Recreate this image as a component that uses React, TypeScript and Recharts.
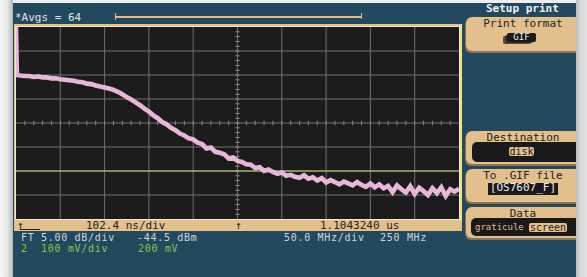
import { LineChart, Line, XAxis, YAxis, CartesianGrid, ReferenceLine } from "recharts";

// FT trace, 0..500 MHz (50 MHz/div), level in dB below top of screen (5 dB/div)
const freqMHz = [
  0, 1, 5, 10, 15, 20, 25, 30, 35, 40, 45, 50, 55, 60, 65, 70, 75, 80, 85, 90, 95,
  100, 105, 110, 115, 120, 125, 130, 135, 140, 145, 150, 155, 160, 165, 170, 175,
  180, 185, 190, 195, 200, 205, 210, 215, 220, 225, 230, 235, 240, 245, 250, 255,
  260, 265, 270, 275, 280, 285, 290, 295, 300, 305, 310, 315, 320, 325, 330, 335,
  340, 345, 350, 355, 360, 365, 370, 375, 380, 385, 390, 395, 400, 405, 410, 415,
  420, 425, 430, 435, 440, 445, 450, 455, 460, 465, 470, 475, 480, 485, 490, 495, 500,
];
const traceDb = [
  0, -10.0, -10.1, -10.2, -10.2, -10.4, -10.3, -10.5, -10.5, -10.7, -10.7, -10.9,
  -11.0, -11.1, -11.2, -11.4, -11.5, -11.8, -11.9, -12.2, -12.4, -12.6, -12.8, -13.1,
  -13.5, -14.0, -14.6, -15.1, -15.7, -16.3, -17.0, -17.6, -18.4, -19.0, -19.8, -20.3,
  -21.0, -21.5, -22.2, -22.6, -23.2, -23.4, -24.1, -24.4, -25.3, -25.1, -26.0, -26.2,
  -26.5, -27.4, -27.2, -27.9, -28.1, -28.6, -28.7, -29.4, -29.2, -30.0, -29.7, -30.2,
  -30.6, -30.3, -31.0, -30.8, -31.2, -31.4, -30.9, -31.6, -31.3, -32.0, -31.5, -32.4,
  -31.9, -32.3, -32.8, -32.2, -32.6, -33.0, -32.3, -32.9, -33.3, -32.6, -33.4, -32.8,
  -33.6, -33.1, -34.4, -33.0, -33.8, -34.5, -33.2, -34.8, -33.5, -34.2, -35.0, -33.6,
  -34.6, -33.4, -35.2, -33.8, -34.3, -33.7,
];
const ch2Db = -30;

const gridX = [50, 100, 150, 200, 250, 300, 350, 400, 450];
const gridY = [-35, -30, -25, -20, -15, -10, -5];

const avgsLabel = "*Avgs = 64";
const timeDiv = "102.4 ns/div";
const trigTime = "1.1043240 us";
const ftLine = ["FT", "5.00 dB/div", "-44.5 dBm", "50.0 MHz/div", "250 MHz"];
const ch2Line = ["2", "100 mV/div", "200 mV"];

const data = freqMHz.map((f, i) => ({ f, db: traceDb[i] }));

const BG = "#23495f";
const TAN = "#e3bf8b";
const MONO = "'DejaVu Sans Mono', monospace";

// graticule minor ticks on the centre cross
const minorX: number[] = [];
for (let f = 10; f < 500; f += 10) minorX.push(f);
const minorY: number[] = [];
for (let d = -39; d < 0; d += 1) minorY.push(d);

const abs = (l: number, t: number, extra: React.CSSProperties = {}): React.CSSProperties => ({
  position: "absolute",
  left: l,
  top: t,
  ...extra,
});

function Txt({ x, y, c, size = 11, bold, ls = 0, children }: any) {
  return (
    <div
      style={abs(x, y, {
        color: c,
        fontFamily: MONO,
        fontSize: size,
        fontWeight: bold ? "bold" : "normal",
        letterSpacing: ls,
        lineHeight: "9px",
        whiteSpace: "pre",
      })}
    >
      {children}
    </div>
  );
}

function Panel({ top, height, title }: { top: number; height: number; title: string }) {
  return (
    <>
      <div style={abs(465, top + 2, { width: 118, height, background: "#8a7452", borderRadius: 6 })} />
      <div style={abs(466, top, { width: 118, height, background: TAN, borderRadius: 6 })} />
      <div style={abs(466, top + 2, { width: 114, textAlign: "center", fontFamily: MONO, fontSize: 11, color: "#222", lineHeight: "9px" })}>
        {title}
      </div>
    </>
  );
}

export default function App() {
  return (
    <div style={{ position: "fixed", left: 0, top: 0, width: 587, height: 277, background: BG, overflow: "hidden" }}>
      {/* scanned page edges */}
      <div style={abs(0, 0, { width: 587, height: 3, background: "#eeeeee" })} />
      <div style={abs(0, 0, { width: 13, height: 277, background: "linear-gradient(90deg,#f6f6f6 0%,#e8e8e8 55%,#b8b8b8 100%)" })} />

      <Txt x={15} y={13} c="#e2e2e2">{avgsLabel}</Txt>
      <div style={abs(115, 16, { width: 247, height: 2, background: TAN })} />
      <div style={abs(115, 13, { width: 1, height: 7, background: TAN })} />
      <div style={abs(361, 13, { width: 1, height: 6, background: TAN })} />

      {/* screen frame */}
      <div style={abs(14, 24, { width: 448, height: 207, background: TAN })} />
      <div style={abs(460, 24, { width: 2, height: 197, background: "#f0e48a" })} />
      <div style={abs(15, 26, { width: 445, height: 194, background: "#ece6dc" })} />
      <div style={abs(16, 27, { width: 443, height: 192, background: "#1c1c1c" })} />

      <div style={abs(16, 27)}>
        <LineChart width={443} height={192} data={data} margin={{ top: 0, right: 0, bottom: 0, left: 0 }}>
          <XAxis type="number" dataKey="f" domain={[0, 500]} hide allowDataOverflow />
          <YAxis type="number" domain={[-40, 0]} hide allowDataOverflow />
          <CartesianGrid stroke="#707070" strokeWidth={1} horizontalValues={gridY} verticalValues={gridX} />
          {minorX.map((f) => (
            <ReferenceLine key={"mx" + f} segment={[{ x: f, y: -19.55 }, { x: f, y: -20.45 }]} stroke="#8a8a8a" />
          ))}
          {minorY.map((d) => (
            <ReferenceLine key={"my" + d} segment={[{ x: 247.5, y: d }, { x: 252.5, y: d }]} stroke="#8a8a8a" />
          ))}
          <ReferenceLine y={ch2Db} stroke="#bcd676" strokeWidth={1.2} />
          <Line
            type="linear"
            dataKey="db"
            stroke="#e8b6d8"
            strokeWidth={4.6}
            strokeLinejoin="miter"
            dot={false}
            isAnimationActive={false}
          />
        </LineChart>
      </div>

      {/* bottom status bar */}
      <Txt x={17} y={221} c="#2a2016">↑</Txt>
      <div style={abs(20, 229, { width: 20, height: 1, background: "#2a2016" })} />
      <Txt x={86} y={221} c="#2a2016">{timeDiv}</Txt>
      <Txt x={235} y={221} c="#2a2016">↑</Txt>
      <Txt x={320} y={221} c="#2a2016">{trigTime}</Txt>

      <Txt x={21} y={233} c="#d4d4d4" size={10} ls={0.7}>{ftLine[0]}</Txt>
      <Txt x={41} y={233} c="#d4d4d4" size={10} ls={0.7}>{ftLine[1]}</Txt>
      <Txt x={137} y={233} c="#d4d4d4" size={10} ls={0.7}>{ftLine[2]}</Txt>
      <Txt x={284} y={233} c="#d4d4d4" size={10} ls={0.7}>{ftLine[3]}</Txt>
      <Txt x={380} y={233} c="#d4d4d4" size={10} ls={0.7}>{ftLine[4]}</Txt>
      <Txt x={21} y={244} c="#86c652" size={10} ls={0.7}>{ch2Line[0]}</Txt>
      <Txt x={41} y={244} c="#86c652" size={10} ls={0.7}>{ch2Line[1]}</Txt>
      <Txt x={138} y={244} c="#86c652" size={10} ls={0.7}>{ch2Line[2]}</Txt>

      {/* side menu */}
      <Txt x={486} y={4} c="#f2f2f2" bold>Setup print</Txt>

      <Panel top={17} height={34} title="Print format" />
      <div style={abs(503, 36, { width: 28, height: 8, background: "#5a4a38", borderRadius: 2 })} />
      <div style={abs(505, 35, { width: 28, height: 8, background: "#3a3026", borderRadius: 2 })} />
      <div style={abs(507, 33, { width: 29, height: 9, background: "#1a1a1a", borderRadius: 2, color: "#eee", fontFamily: MONO, fontSize: 9, lineHeight: "9px", textAlign: "center" })}>
        GIF
      </div>

      <Panel top={131} height={33} title="Destination" />
      <div style={abs(472, 142, { width: 112, height: 20, background: "#1a1a1a", borderRadius: 5 })} />
      <div style={abs(509, 147, { width: 25, height: 9, background: TAN, borderRadius: 2, color: "#222", fontFamily: MONO, fontSize: 10, lineHeight: "9px", textAlign: "center" })}>
        disk
      </div>

      <Panel top={169} height={33} title="To .GIF file" />
      <div style={abs(488, 183, { width: 70, height: 12, background: "#1a1a1a", color: "#eee", fontFamily: MONO, fontSize: 11, lineHeight: "10px", textAlign: "center" })}>
        [OS7607_F]
      </div>

      <Panel top={207} height={31} title="Data" />
      <div style={abs(471, 218, { width: 113, height: 18, background: "#1a1a1a", borderRadius: 5 })} />
      <Txt x={475} y={223} c={TAN} size={9}>graticule</Txt>
      <div style={abs(529, 223, { width: 38, height: 9, background: TAN, borderRadius: 2, color: "#222", fontFamily: MONO, fontSize: 10, lineHeight: "9px", textAlign: "center" })}>
        screen
      </div>

      <div style={abs(576, 0, { width: 11, height: 277, background: "linear-gradient(90deg,#bdbdbd 0%,#d8d8d8 40%,#e4e4e4 100%)" })} />
    </div>
  );
}
